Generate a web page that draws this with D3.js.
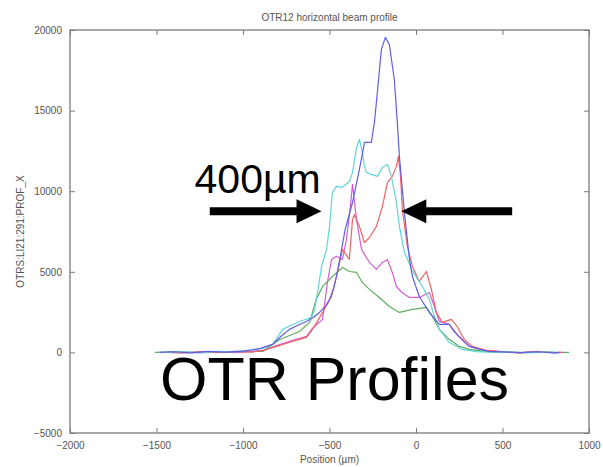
<!DOCTYPE html>
<html>
<head>
<meta charset="utf-8">
<script src="https://d3js.org/d3.v7.min.js"></script>
<style>
  body { margin: 0; background: #fff; }
  text { font-family: "Liberation Sans", Arial, sans-serif; }
</style>
</head>
<body>
<div id="chart"></div>
<script>
// profile data: [position (um), signal]
var greenProfile = [[-1510,0],[-1400,30],[-1300,-20],[-1200,40],[-1100,0],[-1000,50],[-885,60],[-788,800],[-673,1300],[-615,1860],[-577,3290],[-540,4090],[-483,4710],[-425,5270],[-385,5020],[-344,4960],[-310,4340],[-269,3910],[-212,3410],[-154,2850],[-96,2480],[-21,2670],[60,2790],[95,2230],[135,1430],[192,810],[250,370],[308,190],[400,60],[500,20],[600,-30],[700,30],[800,-10],[885,0]];
var magentaProfile = [[-1440,0],[-1350,40],[-1250,-30],[-1150,50],[-1050,-10],[-950,60],[-880,150],[-806,420],[-713,750],[-633,1000],[-598,1500],[-540,2050],[-512,4340],[-488,5770],[-460,5960],[-425,5770],[-402,7010],[-380,9000],[-367,10420],[-344,8250],[-315,6390],[-269,5580],[-229,5150],[-194,5580],[-165,5770],[-137,4960],[-113,4090],[-79,3700],[-38,3410],[19,3410],[77,3720],[106,2850],[135,1920],[192,1740],[250,930],[308,370],[400,120],[500,40],[600,-20],[700,50],[800,-10],[850,0]];
var redProfile = [[-1440,0],[-1350,-40],[-1250,50],[-1150,-20],[-1050,60],[-950,20],[-880,120],[-806,370],[-760,520],[-713,680],[-633,930],[-598,1430],[-540,2480],[-488,3470],[-454,4960],[-425,6390],[-385,5770],[-367,8250],[-356,8560],[-327,7820],[-298,6820],[-269,7130],[-229,7820],[-194,9060],[-165,10550],[-137,10920],[-113,11540],[-102,12160],[-90,11000],[-79,8870],[-50,6580],[-21,5330],[19,4400],[60,5020],[89,3910],[117,2480],[152,1860],[204,2050],[238,1610],[279,810],[325,370],[400,150],[500,50],[600,-30],[700,60],[800,-20],[840,0]];
var cyanProfile = [[-1450,0],[-1350,50],[-1250,-20],[-1150,60],[-1050,30],[-980,120],[-920,200],[-870,300],[-829,500],[-771,1430],[-720,1700],[-673,1920],[-604,2170],[-585,2700],[-569,3720],[-546,5330],[-517,6390],[-500,7800],[-483,9930],[-460,10300],[-425,10240],[-385,10600],[-367,11170],[-344,12700],[-327,13210],[-310,12400],[-298,11540],[-287,11170],[-258,11040],[-223,10920],[-194,11480],[-165,11660],[-142,10920],[-113,9300],[-96,7820],[-67,6200],[-38,5500],[-27,5150],[37,4090],[77,3290],[106,2230],[135,1430],[192,620],[267,190],[350,50],[450,0],[550,40],[650,-30],[750,30],[820,0]];
var blueProfile = [[-1480,0],[-1400,40],[-1300,-30],[-1200,60],[-1100,20],[-1000,80],[-950,150],[-900,250],[-829,500],[-780,1000],[-731,1430],[-680,1700],[-633,1920],[-590,2200],[-558,2480],[-520,2900],[-500,3290],[-475,4000],[-460,4700],[-440,5800],[-410,7600],[-367,9300],[-330,11200],[-310,12300],[-298,13030],[-258,13030],[-240,14300],[-229,15500],[-200,18800],[-177,19540],[-154,19100],[-125,16900],[-108,14270],[-96,12160],[-67,8680],[-38,5800],[-21,4710],[19,3470],[77,2480],[135,1740],[192,1740],[220,1300],[250,990],[308,370],[365,200],[420,60],[500,30],[600,-20],[700,40],[800,-30],[830,0]];

var seriesColors = ["#5fae5f", "#d35fd3", "#ef6464", "#62d6d6", "#5f5fe6"];
var xTicks = [-2000, -1500, -1000, -500, 0, 500, 1000];
var yTicks = [-5000, 0, 5000, 10000, 15000, 20000];

// arrows: [from x, to x, at y] in data units
var arrowLeft = [-1192, -546, 8750];
var arrowRight = [556, -85, 8750];

// set the dimensions and margins of the graph
var margin = {top: 30, right: 14, bottom: 34, left: 70},
    width = 603 - margin.left - margin.right,
    height = 467 - margin.top - margin.bottom;

var svg = d3.select("#chart")
  .append("svg")
    .attr("width", 603)
    .attr("height", 467)
  .append("g")
    .attr("transform", "translate(" + margin.left + "," + margin.top + ")");

var x = d3.scaleLinear().domain([-2000, 1000]).range([0, width]);
var y = d3.scaleLinear().domain([-5000, 20000]).range([height, 0]);

var axisColor = "#7a7a7a";

// box
svg.append("rect")
  .attr("x", 0).attr("y", 0)
  .attr("width", width).attr("height", height)
  .attr("fill", "none")
  .attr("stroke", axisColor)
  .attr("stroke-width", 1.3);

// axes, ticks inside like matlab
var bottomAxis = svg.append("g")
  .attr("transform", "translate(0," + height + ")")
  .call(d3.axisBottom(x).tickValues(xTicks).tickSize(-5).tickPadding(9).tickFormat(d3.format("d")));
var topAxis = svg.append("g")
  .call(d3.axisTop(x).tickValues(xTicks).tickSize(-5).tickFormat(""));
var leftAxis = svg.append("g")
  .call(d3.axisLeft(y).tickValues(yTicks).tickSize(-5).tickPadding(8).tickFormat(d3.format("d")));
var rightAxis = svg.append("g")
  .attr("transform", "translate(" + width + ",0)")
  .call(d3.axisRight(y).tickValues(yTicks).tickSize(-5).tickFormat(""));

[bottomAxis, topAxis, leftAxis, rightAxis].forEach(function(a) {
  a.select(".domain").remove();
  a.selectAll("line").attr("stroke", axisColor);
  a.selectAll("text")
    .attr("fill", "#555")
    .style("font-size", "10px")
    .text(function() { return d3.select(this).text().replace("-", "\u2212"); });
});

// axis labels
svg.append("text")
  .attr("x", width / 2)
  .attr("y", height + 30)
  .style("text-anchor", "middle")
  .style("font-size", "10px")
  .attr("fill", "#555")
  .text("Position  (\u00b5m)");

svg.append("text")
  .attr("transform", "rotate(-90)")
  .attr("x", -height / 2)
  .attr("y", -46)
  .style("text-anchor", "middle")
  .style("font-size", "10px")
  .attr("fill", "#555")
  .text("OTRS:LI21:291:PROF_X");

//Graph Title
svg.append("text")
  .attr("x", width / 2)
  .attr("y", -9)
  .style("text-anchor", "middle")
  .style("font-size", "10px")
  .attr("fill", "#555")
  .text("OTR12 horizontal beam profile");

// profile lines
var line = d3.line()
  .x(function(d) { return x(d[0]); })
  .y(function(d) { return y(d[1]); });

[greenProfile, magentaProfile, redProfile, cyanProfile, blueProfile].forEach(function(p, i) {
  svg.append("path")
    .datum(p)
    .attr("fill", "none")
    .attr("stroke", seriesColors[i])
    .attr("stroke-width", 1.2)
    .attr("stroke-linejoin", "round")
    .attr("d", line);
});

// annotation arrows
function drawArrow(a) {
  var x1 = x(a[0]), x2 = x(a[1]), yy = y(a[2]);
  var dir = x2 > x1 ? 1 : -1;
  var headLen = 25, headHalf = 12, shaft = 4;
  var xb = x2 - dir * headLen;
  var pts = [[x1, yy - shaft], [xb, yy - shaft], [xb, yy - headHalf], [x2, yy],
             [xb, yy + headHalf], [xb, yy + shaft], [x1, yy + shaft]];
  svg.append("path")
    .attr("d", "M" + pts.join("L") + "Z")
    .attr("fill", "#000");
}
drawArrow(arrowLeft);
drawArrow(arrowRight);

svg.append("text")
  .attr("x", x(-1280))
  .attr("y", y(9900))
  .style("font-size", "41px")
  .attr("fill", "#000")
  .text("400\u00b5m");

svg.append("text")
  .attr("x", x(-1480))
  .attr("y", y(-2950))
  .style("font-size", "61px")
  .attr("fill", "#000")
  .text("OTR Profiles");
</script>
</body>
</html>
